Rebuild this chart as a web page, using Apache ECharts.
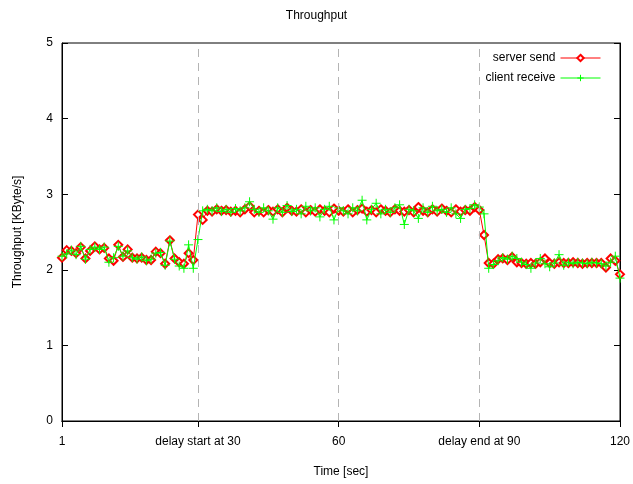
<!DOCTYPE html>
<html>
<head>
<meta charset="utf-8">
<script src="https://cdn.jsdelivr.net/npm/echarts@6/dist/echarts.min.js"></script>
<style>html,body{margin:0;padding:0;background:#fff}#c{width:633px;height:484px}</style>
</head>
<body>
<div id="c"></div>
<script>
const seconds = Array.from({length: 120}, (_, i) => i + 1);
const xTicks = [1, 30, 60, 90, 120];
const xTickLabels = {1: '1', 30: 'delay start at 30', 60: '60', 90: 'delay end at 90', 120: '120'};
const markers = [30, 60, 90];
const serverSend = [
2.16,2.26,2.25,2.22,2.30,2.15,2.25,2.31,2.27,2.29,
2.15,2.12,2.33,2.17,2.27,2.16,2.15,2.16,2.13,2.13,
2.24,2.22,2.08,2.39,2.15,2.10,2.08,2.22,2.13,2.73,
2.66,2.78,2.77,2.80,2.78,2.79,2.77,2.78,2.76,2.80,
2.84,2.76,2.78,2.76,2.79,2.77,2.80,2.76,2.82,2.78,
2.77,2.80,2.76,2.79,2.77,2.80,2.78,2.76,2.81,2.78,
2.77,2.80,2.76,2.79,2.81,2.77,2.79,2.76,2.80,2.78,
2.76,2.80,2.78,2.77,2.79,2.76,2.83,2.78,2.76,2.80,
2.77,2.81,2.78,2.76,2.80,2.77,2.79,2.78,2.83,2.79,
2.46,2.09,2.08,2.14,2.15,2.13,2.17,2.10,2.09,2.08,
2.09,2.08,2.10,2.15,2.09,2.08,2.10,2.09,2.09,2.10,
2.09,2.08,2.09,2.09,2.09,2.09,2.03,2.15,2.12,1.94];
const clientReceive = [
2.18,2.21,2.26,2.20,2.31,2.14,2.27,2.30,2.27,2.30,
2.10,2.16,2.31,2.18,2.25,2.16,2.14,2.17,2.12,2.14,
2.22,2.23,2.06,2.38,2.14,2.05,2.02,2.33,2.02,2.40,
2.78,2.80,2.78,2.82,2.77,2.80,2.76,2.81,2.78,2.82,
2.90,2.80,2.76,2.82,2.78,2.67,2.82,2.76,2.85,2.77,
2.80,2.74,2.84,2.78,2.82,2.70,2.80,2.84,2.66,2.82,
2.78,2.74,2.82,2.78,2.92,2.66,2.80,2.88,2.74,2.80,
2.76,2.82,2.86,2.60,2.80,2.78,2.68,2.82,2.76,2.84,
2.78,2.80,2.76,2.82,2.74,2.68,2.80,2.81,2.86,2.83,
2.74,2.02,2.07,2.12,2.16,2.14,2.18,2.15,2.10,2.07,
2.02,2.09,2.15,2.08,2.04,2.09,2.20,2.06,2.10,2.08,
2.10,2.09,2.08,2.10,2.09,2.08,2.05,2.10,2.18,1.89];

const font = 'Liberation Sans, Arial, sans-serif';
const plus = 'path://M0,5L10,5M5,0L5,10';
const chart = echarts.init(document.getElementById('c'), null, {renderer: 'canvas'});
const tickStyle = {show: true, inside: true, length: 6, lineStyle: {color: '#000', width: 1}};
const legendCommon = {right: 27, align: 'right', itemWidth: 40, itemHeight: 8, itemGap: 6,
  lineStyle: {width: 1}, itemStyle: {borderWidth: 1},
  textStyle: {fontSize: 12, color: '#000', fontFamily: font}};
chart.setOption({
  animation: false,
  backgroundColor: '#fff',
  textStyle: {fontFamily: font},
  title: {text: 'Throughput', left: 'center', top: 5, textStyle: {fontSize: 12, fontWeight: 'normal', color: '#000', fontFamily: font}},
  grid: {left: 62, right: 13, top: 43, bottom: 63, containLabel: false, outerBoundsMode: 'none',
    show: true, borderColor: '#000', borderWidth: 1, backgroundColor: 'transparent'},
  legend: [
    Object.assign({data: ['server send'], top: 47}, legendCommon),
    Object.assign({data: ['client receive'], top: 67}, legendCommon)
  ],
  xAxis: [
    {type: 'value', min: 1, max: 120, name: 'Time [sec]', nameLocation: 'middle', nameGap: 45,
     nameTextStyle: {fontSize: 12, color: '#000', fontFamily: font},
     axisLine: {show: true, lineStyle: {color: '#000', width: 1}},
     axisTick: Object.assign({customValues: xTicks}, tickStyle),
     axisLabel: {customValues: xTicks, margin: 15, fontSize: 12, color: '#000', fontFamily: font,
       formatter: v => xTickLabels[v] !== undefined ? xTickLabels[v] : ''},
     splitLine: {show: false}},
    {type: 'value', min: 1, max: 120, position: 'top',
     axisLine: {show: true, lineStyle: {color: '#000', width: 1}},
     axisTick: Object.assign({customValues: xTicks}, tickStyle),
     axisLabel: {show: false}, splitLine: {show: false}}
  ],
  yAxis: [
    {type: 'value', min: 0, max: 5, interval: 1, name: 'Throughput [KByte/s]', nameLocation: 'middle', nameGap: 38,
     nameTextStyle: {fontSize: 12, color: '#000', fontFamily: font},
     axisLine: {show: true, lineStyle: {color: '#000', width: 1}},
     axisTick: tickStyle,
     axisLabel: {margin: 9, fontSize: 12, color: '#000', fontFamily: font},
     splitLine: {show: false}},
    {type: 'value', min: 0, max: 5, interval: 1, position: 'right',
     axisLine: {show: true, lineStyle: {color: '#000', width: 1}},
     axisTick: tickStyle, axisLabel: {show: false}, splitLine: {show: false}}
  ],
  series: [
    {name: 'server send', type: 'line', data: seconds.map((s, i) => [s, serverSend[i]]),
     symbol: 'emptyDiamond', symbolSize: 8, showAllSymbol: true,
     lineStyle: {color: '#ff0000', width: 1}, itemStyle: {color: '#ff0000', borderColor: '#ff0000', borderWidth: 1},
     markLine: {silent: true, symbol: 'none', label: {show: false},
       lineStyle: {color: '#b4b4b4', type: [8, 6], width: 1},
       data: markers.map(m => ({xAxis: m}))},
     z: 2},
    {name: 'client receive', type: 'line', data: seconds.map((s, i) => [s, clientReceive[i]]),
     symbol: plus, symbolSize: 9, showAllSymbol: true,
     lineStyle: {color: '#00ff00', width: 1}, itemStyle: {color: '#00ff00', borderColor: '#00ff00', borderWidth: 1},
     z: 3}
  ]
});
</script>
</body>
</html>
